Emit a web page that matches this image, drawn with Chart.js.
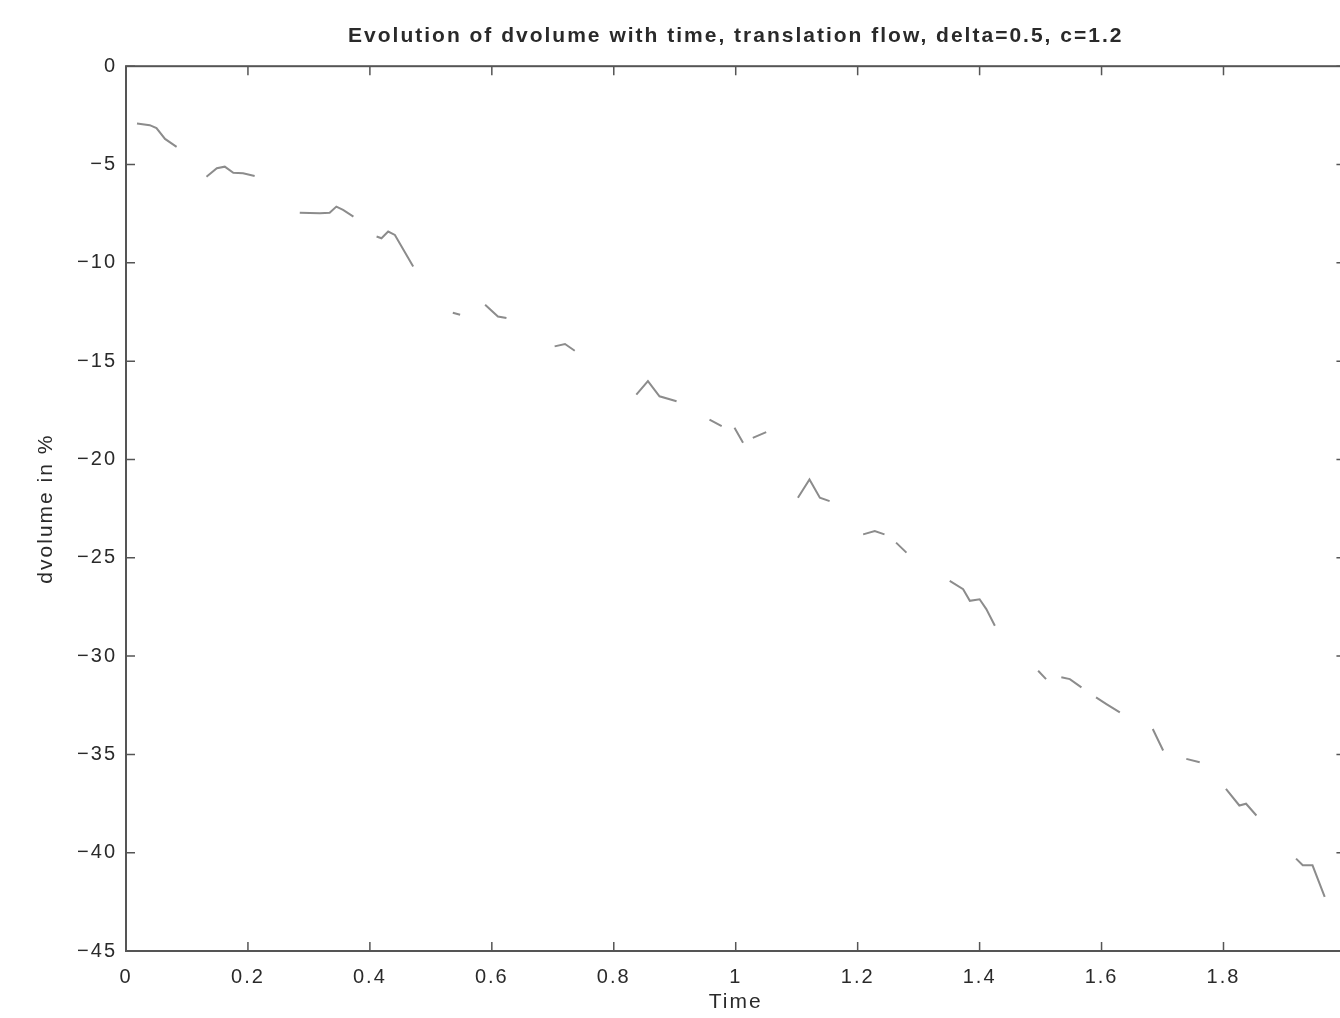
<!DOCTYPE html>
<html>
<head>
<meta charset="utf-8">
<title>dvolume</title>
<script src="https://cdn.jsdelivr.net/npm/chart.js@4.4.1/dist/chart.umd.min.js"></script>
<style>
  html, body { margin: 0; padding: 0; background: #fff; overflow: hidden; }
  #chart { display: block; }
</style>
</head>
<body>
<canvas id="chart" width="1365" height="1018"></canvas>
<script>
// values; null = where the faded trace can't be seen
const times = [
  0.018, 0.039, 0.050, 0.064, 0.083, 0.10,
  0.132, 0.149, 0.162, 0.176, 0.192, 0.211, 0.25,
  0.285, 0.318, 0.334, 0.345, 0.356, 0.373, 0.39,
  0.411, 0.419, 0.430, 0.441, 0.471, 0.50,
  0.536, 0.548, 0.57,
  0.589, 0.610, 0.624, 0.66,
  0.703, 0.720, 0.736, 0.78,
  0.837, 0.856, 0.875, 0.903, 0.93,
  0.957, 0.977, 0.988,
  0.998, 1.012, 1.02,
  1.028, 1.050, 1.08,
  1.102, 1.121, 1.138, 1.154, 1.185,
  1.209, 1.228, 1.244, 1.254,
  1.263, 1.280, 1.32,
  1.351, 1.373, 1.384, 1.400, 1.411, 1.425, 1.47,
  1.496, 1.509, 1.52,
  1.534, 1.548, 1.567, 1.58,
  1.591, 1.608, 1.630, 1.66,
  1.684, 1.701, 1.72,
  1.739, 1.761, 1.785,
  1.804, 1.826, 1.837, 1.854, 1.89,
  1.919, 1.930, 1.946, 1.966
];
const dvolume = [
  -2.91, -3.0, -3.15, -3.7, -4.1, null,
  -5.62, -5.19, -5.11, -5.42, -5.45, -5.58, null,
  -7.45, -7.48, -7.45, -7.14, -7.31, -7.65, null,
  -8.66, -8.75, -8.41, -8.58, -10.19, null,
  -12.54, -12.64, null,
  -12.13, -12.73, -12.81, null,
  -14.25, -14.13, -14.47, null,
  -16.70, -16.02, -16.79, -17.04, null,
  -17.97, -18.31, null,
  -18.39, -19.15, null,
  -18.90, -18.61, null,
  -21.95, -21.02, -21.95, -22.12, null,
  -23.81, -23.64, -23.81, null,
  -24.23, -24.74, null,
  -26.18, -26.60, -27.19, -27.11, -27.61, -28.46, null,
  -30.75, -31.17, null,
  -31.08, -31.17, -31.59, null,
  -32.10, -32.44, -32.86, null,
  -33.71, -34.80, null,
  -35.23, -35.40, null,
  -36.75, -37.60, -37.51, -38.11, null,
  -40.30, -40.64, -40.64, -42.25
];
const xTicks = [0, 0.2, 0.4, 0.6, 0.8, 1, 1.2, 1.4, 1.6, 1.8, 2];
const yTicks = [0, -5, -10, -15, -20, -25, -30, -35, -40, -45];

const axisColor = "#555";
const textColor = "#2a2a2a";
const fontFamily = "'Liberation Sans', Arial, sans-serif";

// the scanned lettering is a bit stretched sideways
const wideText = {
  id: "wideText",
  beforeDraw(chart) { chart.ctx.letterSpacing = "2px"; }
};

// matlab style box with inward ticks
const boxTicks = {
  id: "boxTicks",
  afterDraw(chart) {
    const { ctx, chartArea: a, scales: { x, y } } = chart;
    ctx.save();
    ctx.strokeStyle = axisColor;
    ctx.lineWidth = 2;
    ctx.strokeRect(a.left, a.top, a.right - a.left, a.bottom - a.top);
    ctx.lineWidth = 1.5;
    ctx.beginPath();
    xTicks.forEach(v => {
      const px = x.getPixelForValue(v);
      ctx.moveTo(px, a.bottom); ctx.lineTo(px, a.bottom - 9);
      ctx.moveTo(px, a.top); ctx.lineTo(px, a.top + 9);
    });
    yTicks.forEach(v => {
      const py = y.getPixelForValue(v);
      ctx.moveTo(a.left, py); ctx.lineTo(a.left + 9, py);
      ctx.moveTo(a.right, py); ctx.lineTo(a.right - 9, py);
    });
    ctx.stroke();
    ctx.restore();
  }
};

const ctx = document.getElementById("chart").getContext("2d");
new Chart(ctx, {
  type: "line",
  data: {
    datasets: [{
      label: "dvolume",
      data: times.map((t, i) => ({ x: t, y: dvolume[i] })),
      borderColor: "#8c8c8c",
      borderWidth: 2,
      pointRadius: 0,
      tension: 0,
      spanGaps: false
    }]
  },
  options: {
    responsive: false,
    animation: false,
    layout: { padding: 0 },
    plugins: {
      legend: { display: false },
      tooltip: { enabled: false },
      title: {
        display: true,
        fullSize: false,
        text: "Evolution of dvolume with time, translation flow, delta=0.5, c=1.2",
        color: textColor,
        font: { family: fontFamily, size: 21, weight: "bold" },
        padding: { top: 24, bottom: 17 }
      }
    },
    scales: {
      x: {
        type: "linear",
        min: 0,
        max: 2,
        afterBuildTicks: s => { s.ticks = xTicks.map(v => ({ value: v })); },
        afterFit: s => { s.height = 67; },
        grid: { display: false, drawTicks: false },
        border: { display: false },
        ticks: {
          color: textColor,
          padding: 14,
          font: { family: fontFamily, size: 20 },
          callback: v => String(Math.round(v * 10) / 10)
        },
        title: {
          display: true,
          text: "Time",
          color: textColor,
          font: { family: fontFamily, size: 21 },
          padding: { top: 0, bottom: 3 }
        }
      },
      y: {
        min: -45,
        max: 0,
        afterBuildTicks: s => { s.ticks = yTicks.map(v => ({ value: v })); },
        afterFit: s => { s.width = 126; },
        grid: { display: false, drawTicks: false },
        border: { display: false },
        ticks: {
          color: textColor,
          padding: 9,
          font: { family: fontFamily, size: 20 },
          callback: v => (v < 0 ? "\u2212" + Math.abs(v) : String(v))
        },
        title: {
          display: true,
          text: "dvolume in %",
          color: textColor,
          font: { family: fontFamily, size: 21 },
          padding: { top: 34, bottom: 0 }
        }
      }
    }
  },
  plugins: [wideText, boxTicks]
});
</script>
</body>
</html>
